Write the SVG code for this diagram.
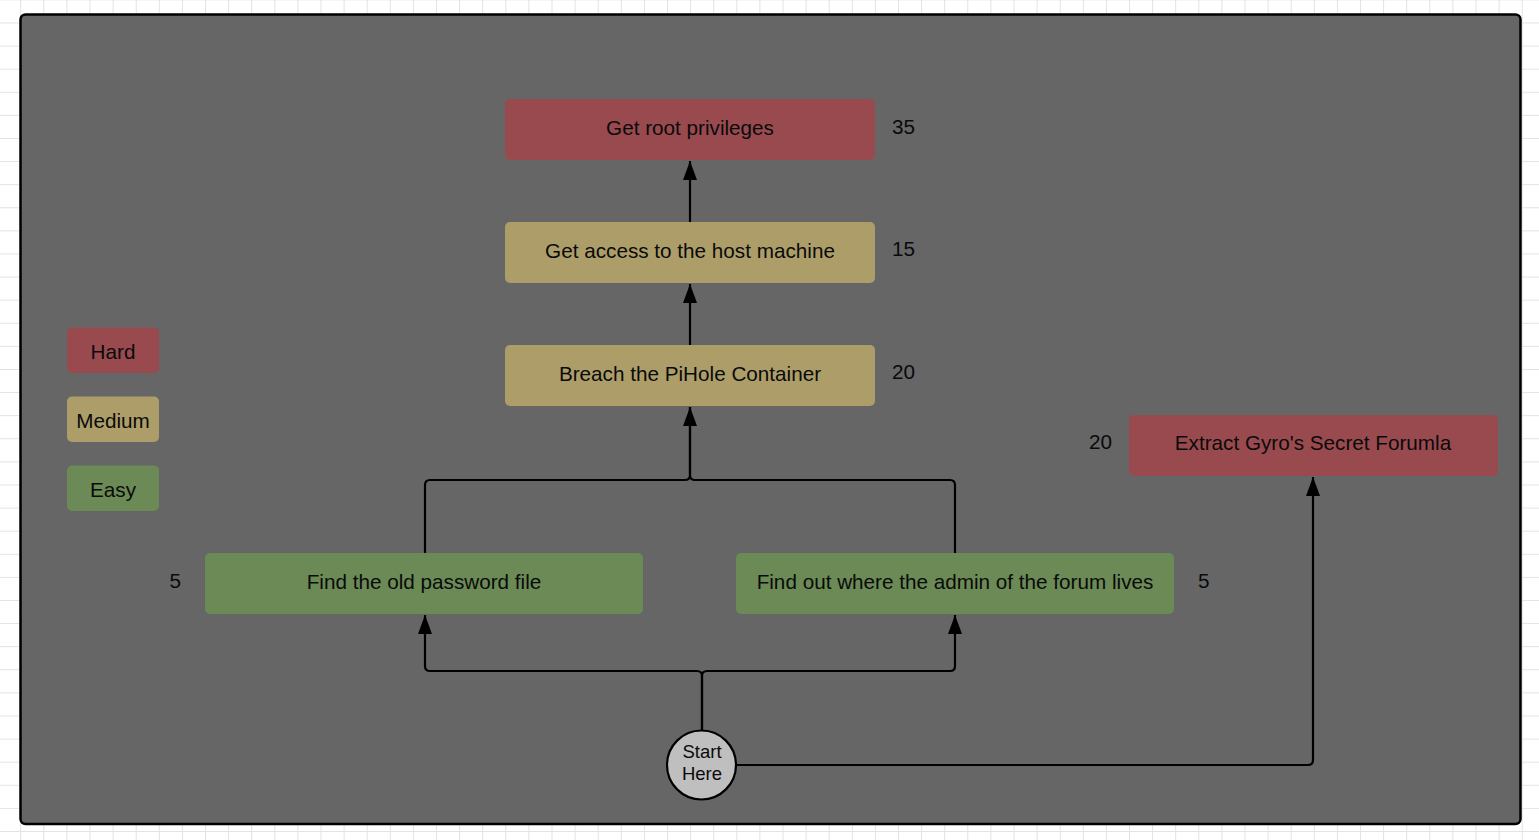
<svg xmlns="http://www.w3.org/2000/svg" width="1539" height="840" viewBox="0 0 1539 840">
<defs>
<pattern id="grid" x="20.2" y="22.5" width="23.1" height="23.1" patternUnits="userSpaceOnUse">
<path d="M0.5,0 V23.1 M0,0.5 H23.1" fill="none" stroke="#e2e2e2" stroke-width="1"/>
</pattern>
<marker id="arr" viewBox="0 0 19 14" refX="19" refY="7" markerWidth="19" markerHeight="14" markerUnits="userSpaceOnUse" orient="auto">
<path d="M0,0 L19,7 L0,14 Z" fill="#000"/>
</marker>
<style>
.box{stroke:none}
.hard{fill:#994a4f}
.med{fill:#ad9e69}
.easy{fill:#6b8a56}
.t{font-family:"Liberation Sans",Arial,sans-serif;font-size:20.7px;fill:#0a0a0a;text-anchor:middle}
.n{font-family:"Liberation Sans",Arial,sans-serif;font-size:20.7px;fill:#0a0a0a}
.c{fill:none;stroke:#000;stroke-width:2.2}
</style>
</defs>
<rect x="0" y="0" width="1539" height="840" fill="#fff"/>
<rect x="0" y="0" width="1539" height="840" fill="url(#grid)"/>
<rect x="20.5" y="14.5" width="1500" height="809.5" rx="5" fill="#666666" stroke="#000" stroke-width="2.5"/>

<g id="connectors">
<path class="c" d="M690,222 V161" marker-end="url(#arr)"/>
<path class="c" d="M690,345 V284" marker-end="url(#arr)"/>
<path class="c" d="M425,553 V485 Q425,480 430,480 H685 Q690,480 690,475 V407" marker-end="url(#arr)"/>
<path class="c" d="M955,553 V485 Q955,480 950,480 H695 Q690,480 690,475 V407"/>
<path class="c" d="M702,730 V676 Q702,671 697,671 H430 Q425,671 425,666 V615" marker-end="url(#arr)"/>
<path class="c" d="M702,730 V676 Q702,671 707,671 H950 Q955,671 955,666 V615" marker-end="url(#arr)"/>
<path class="c" d="M737,765 H1308 Q1313,765 1313,760 V477" marker-end="url(#arr)"/>
</g>

<g id="root">
<rect class="box hard" x="505" y="99" width="370" height="61" rx="5"/>
<text class="t" x="690" y="135">Get root privileges</text>
<text class="n" x="892" y="134">35</text>
</g>
<g id="host">
<rect class="box med" x="505" y="222" width="370" height="61" rx="5"/>
<text class="t" x="690" y="258">Get access to the host machine</text>
<text class="n" x="892" y="256">15</text>
</g>
<g id="breach">
<rect class="box med" x="505" y="345" width="370" height="61" rx="5"/>
<text class="t" x="690" y="381">Breach the PiHole Container</text>
<text class="n" x="892" y="379">20</text>
</g>
<g id="extract">
<rect class="box hard" x="1129" y="415" width="369" height="61" rx="5"/>
<text class="t" x="1313" y="450">Extract Gyro's Secret Forumla</text>
<text class="n" x="1112" y="449" text-anchor="end">20</text>
</g>
<g id="password">
<rect class="box easy" x="205" y="553" width="438" height="61" rx="5"/>
<text class="t" x="424" y="589">Find the old password file</text>
<text class="n" x="181" y="588" text-anchor="end">5</text>
</g>
<g id="admin">
<rect class="box easy" x="736" y="553" width="438" height="61" rx="5"/>
<text class="t" x="955" y="589">Find out where the admin of the forum lives</text>
<text class="n" x="1198" y="588">5</text>
</g>
<g id="start">
<circle cx="701.5" cy="765" r="34.5" fill="#bfbfbf" stroke="#000" stroke-width="2.2"/>
<text class="t" x="702" y="758" style="font-size:18.5px">Start</text>
<text class="t" x="702" y="780" style="font-size:18.5px">Here</text>
</g>
<g id="legend-hard">
<rect class="box hard" x="67" y="327.5" width="92" height="45.5" rx="5"/>
<text class="t" x="113" y="359">Hard</text>
</g>
<g id="legend-medium">
<rect class="box med" x="67" y="396.5" width="92" height="45.5" rx="5"/>
<text class="t" x="113" y="428">Medium</text>
</g>
<g id="legend-easy">
<rect class="box easy" x="67" y="465.5" width="92" height="45.5" rx="5"/>
<text class="t" x="113" y="497">Easy</text>
</g>
</svg>
